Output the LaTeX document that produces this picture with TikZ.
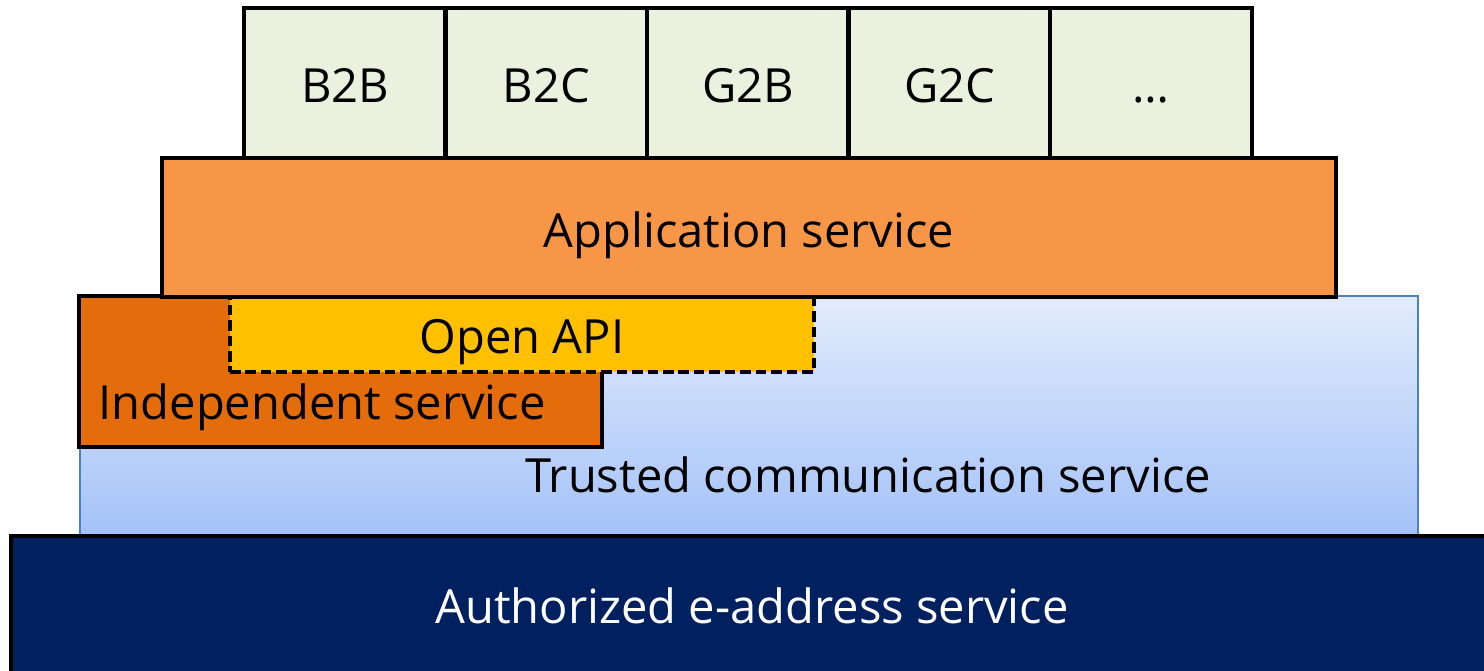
\documentclass[tikz,border=0pt]{standalone}
\usepackage{fontspec}
\setmainfont{Open Sans}
\usepackage{tikz}
\usetikzlibrary{positioning}
\definecolor{topgreen}{RGB}{235, 240, 223}
\definecolor{apporange}{RGB}{247, 150, 70}
\definecolor{indorange}{RGB}{228, 108, 10}
\definecolor{apiyellow}{RGB}{255, 192, 0}
\definecolor{trustedtop}{RGB}{227, 236, 252}
\definecolor{trustedbot}{RGB}{164, 194, 248}
\definecolor{trustedline}{RGB}{79, 129, 189}
\definecolor{authnavy}{RGB}{0, 32, 96}

\begin{document}
\begin{tikzpicture}[
    x=1cm, y=-1cm,
    every node/.style={font=\fontsize{13.4}{16}\selectfont, inner sep=0pt,
                       text height=0.46cm, text depth=0.06cm},
    layer/.style={rectangle, draw=black, line width=1.4pt},
    case/.style={layer, fill=topgreen, minimum width=2.02cm, minimum height=1.5cm}
]
    \useasboundingbox (0,0) rectangle (14.84,6.71);
    % trusted communication layer
    \node[rectangle, draw=trustedline, line width=0.6pt,
          top color=trustedtop, bottom color=trustedbot,
          minimum width=13.38cm, minimum height=2.39cm] (trusted) at (7.49,4.155) {};
    \node (trustedtext) at (8.68,4.73) {Trusted communication service};
    % independent service and open api
    \node[layer, fill=indorange, minimum width=5.23cm, minimum height=1.51cm] (indep) at (3.405,3.715) {};
    \node[anchor=west] (indeptext) at (0.98,4.0) {Independent service};
    \node[layer, dash pattern=on 3pt off 1.4pt, fill=apiyellow,
          minimum width=5.84cm, minimum height=0.76cm] (openapi) at (5.22,3.34) {Open API};
    % application layer
    \node[layer, fill=apporange, minimum width=11.74cm, minimum height=1.39cm] (app) at (7.49,2.275) {Application service};
    % services on top
    \foreach \name/\lbl [count=\i from 0] in {btob/B2B, btoc/B2C, gtob/G2B, gtoc/G2C, more/\dots}
        \node[case] (\name) at ({3.45+2.015*\i},0.83) {\lbl};
    % authorized e-address layer
    \node[layer, fill=authnavy, minimum width=14.9cm, minimum height=1.45cm] (auth) at (7.56,6.085) {};
    \node[text=white] (authtext) at (7.52,6.04) {Authorized e-address service};
\end{tikzpicture}
\end{document}
